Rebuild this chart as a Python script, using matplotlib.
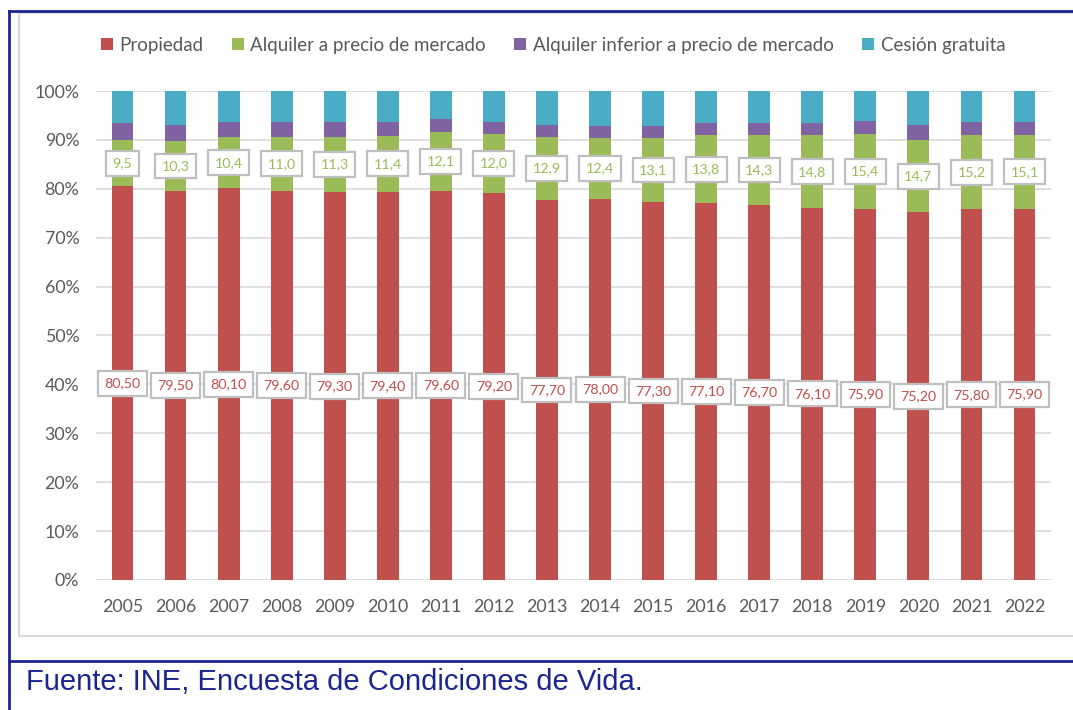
import matplotlib
matplotlib.use("Agg")
import matplotlib.pyplot as plt
import matplotlib.ticker as mticker
from matplotlib.patches import Rectangle, Patch
from matplotlib.lines import Line2D

years = [str(y) for y in range(2005, 2023)]
propiedad = [80.5, 79.5, 80.1, 79.6, 79.3, 79.4, 79.6, 79.2, 77.7, 78.0,
             77.3, 77.1, 76.7, 76.1, 75.9, 75.2, 75.8, 75.9]
alquiler_mercado = [9.5, 10.3, 10.4, 11.0, 11.3, 11.4, 12.1, 12.0, 12.9, 12.4,
                    13.1, 13.8, 14.3, 14.8, 15.4, 14.7, 15.2, 15.1]
alquiler_inferior = [3.5, 3.2, 3.2, 3.1, 3.1, 2.9, 2.6, 2.5, 2.4, 2.4,
                     2.4, 2.6, 2.5, 2.6, 2.6, 3.1, 2.7, 2.7]
cesion = [6.5, 7.0, 6.3, 6.3, 6.3, 6.3, 5.7, 6.3, 7.0, 7.2,
          7.2, 6.5, 6.5, 6.5, 6.1, 7.0, 6.3, 6.3]

series = [
    ("Propiedad", propiedad, "#C0504D"),
    ("Alquiler a precio de mercado", alquiler_mercado, "#9BBB59"),
    ("Alquiler inferior a precio de mercado", alquiler_inferior, "#8064A2"),
    ("Cesión gratuita", cesion, "#4BACC6"),
]

plt.rcParams["font.family"] = ["Lato", "DejaVu Sans"]
TXT = "#595959"
NAVY = "#1B2590"

W, H = 1073, 710
fig = plt.figure(figsize=(W / 100, H / 100), dpi=100)


def fx(px):
    return px / W


def fy(py):
    return 1 - py / H


# outer frame and chart area border
fig.add_artist(Rectangle((fx(19), fy(636)), fx(1080 - 19), fy(13) - fy(636),
                         transform=fig.transFigure, facecolor="white",
                         edgecolor="#D9D9D9", linewidth=1.5, zorder=0))
for xs, ys in [((9, 9), (11, 712)), ((9, 1075), (11, 11)), ((9, 1075), (661, 661))]:
    fig.add_artist(Line2D([fx(x) for x in xs], [fy(y) for y in ys],
                          transform=fig.transFigure, color=NAVY, linewidth=2))

ax = fig.add_axes([fx(96), fy(580), fx(1051) - fx(96), fy(91) - fy(580)])
ax.set_facecolor("none")

x = range(len(years))
bottom = [0.0] * len(years)
for name, vals, color in series:
    frac = [v / 100 for v in vals]
    ax.bar(x, frac, width=0.41, bottom=bottom, color=color, label=name, zorder=2)
    bottom = [b + f for b, f in zip(bottom, frac)]

box = dict(boxstyle="square,pad=0.45", facecolor="white", edgecolor="#BFBFBF", linewidth=1.6)
for i in x:
    p = propiedad[i] / 100
    a = alquiler_mercado[i] / 100
    ax.text(i, p / 2, f"{propiedad[i]:.2f}".replace(".", ","), ha="center", va="center",
            color="#C0504D", fontsize=10.3, bbox=box, zorder=4)
    ax.text(i, p + a / 2, f"{alquiler_mercado[i]:.1f}".replace(".", ","), ha="center",
            va="center", color="#9BBB59", fontsize=10.3, bbox=box, zorder=4)

ax.set_xlim(-0.5, len(years) - 0.5)
ax.set_ylim(0, 1)
ax.set_xticks(list(x))
ax.set_xticklabels(years)
ax.yaxis.set_major_locator(mticker.MultipleLocator(0.1))
ax.yaxis.set_major_formatter(mticker.FuncFormatter(lambda v, _: f"{v * 100:.0f}%"))
ax.tick_params(axis="both", length=0, colors=TXT, labelsize=12.8)
ax.tick_params(axis="y", pad=12)
ax.tick_params(axis="x", pad=14)
ax.grid(axis="y", color="#D9D9D9", linewidth=1.2, zorder=0)
ax.set_axisbelow(True)
for s in ax.spines.values():
    s.set_visible(False)

handles = [Patch(facecolor=c, edgecolor="none") for _, _, c in series]
labels = [n for n, _, _ in series]
fig.legend(handles, labels, loc="center", bbox_to_anchor=(fx(553), fy(45)), ncol=4,
           frameon=False, fontsize=13.5, labelcolor=TXT, handlelength=0.65,
           handleheight=0.65, handletextpad=0.35, columnspacing=1.5)

fig.text(fx(26), fy(690), "Fuente: INE, Encuesta de Condiciones de Vida.",
         family="Liberation Sans", fontsize=21, color=NAVY, va="baseline", ha="left")

fig.savefig("out.png", dpi=100)
